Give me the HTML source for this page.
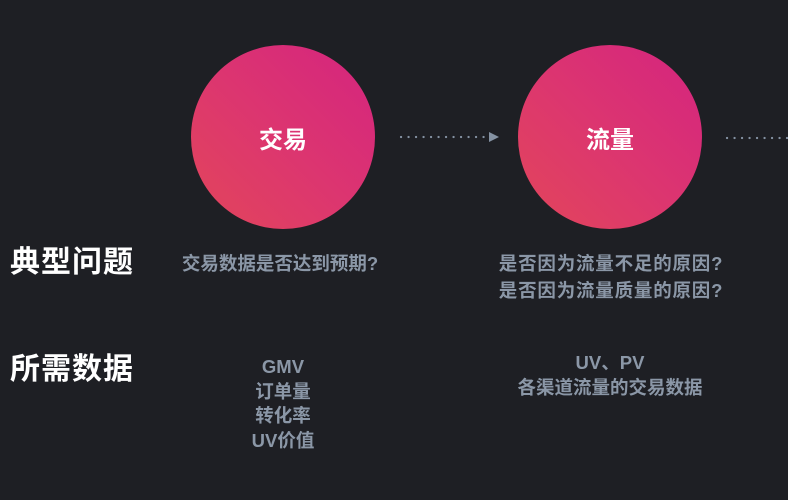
<!DOCTYPE html>
<html><head><meta charset="utf-8"><style>
html,body{margin:0;padding:0;background:#1e1f24;}
body{width:788px;height:500px;position:relative;overflow:hidden;font-family:"Liberation Sans","Noto Sans CJK SC",sans-serif;}
.c{position:absolute;width:184px;height:184px;border-radius:50%;background:linear-gradient(225deg,#d4247f 0%,#dc3570 50%,#e2465a 100%);color:#fff;font-weight:bold;font-size:24px;display:flex;align-items:center;justify-content:center;}
.h{position:absolute;left:10px;color:#fff;font-size:30px;font-weight:bold;letter-spacing:1px;line-height:1;}
.t{position:absolute;color:#8b97a7;font-size:18.5px;font-weight:bold;text-align:center;width:300px;}
</style></head><body>
<div class="c" style="left:191px;top:45px;">交易</div>
<div class="c" style="left:518px;top:45px;">流量</div>
<svg width="788" height="500" style="position:absolute;left:0;top:0">
<line x1="401" y1="137" x2="488" y2="137" stroke="#8592a3" stroke-width="2.2" stroke-dasharray="0.1 7.4" stroke-linecap="round"/>
<polygon points="489,132 499,137 489,142" fill="#8592a3"/>
<line x1="727" y1="138" x2="788" y2="138" stroke="#8592a3" stroke-width="2.2" stroke-dasharray="0.1 7.4" stroke-linecap="round"/>
</svg>
<div class="h" style="top:248px;">典型问题</div>
<div class="h" style="top:355px;">所需数据</div>
<div class="t" style="left:130px;top:250px;line-height:27px;">交易数据是否达到预期?</div>
<div class="t" style="left:461px;top:250px;line-height:27px;letter-spacing:0.8px;">是否因为流量不足的原因?<br>是否因为流量质量的原因?</div>
<div class="t" style="left:133px;top:355px;line-height:24.7px;">GMV<br>订单量<br>转化率<br>UV价值</div>
<div class="t" style="left:460px;top:350px;line-height:25px;">UV、PV<br>各渠道流量的交易数据</div>
</body></html>
